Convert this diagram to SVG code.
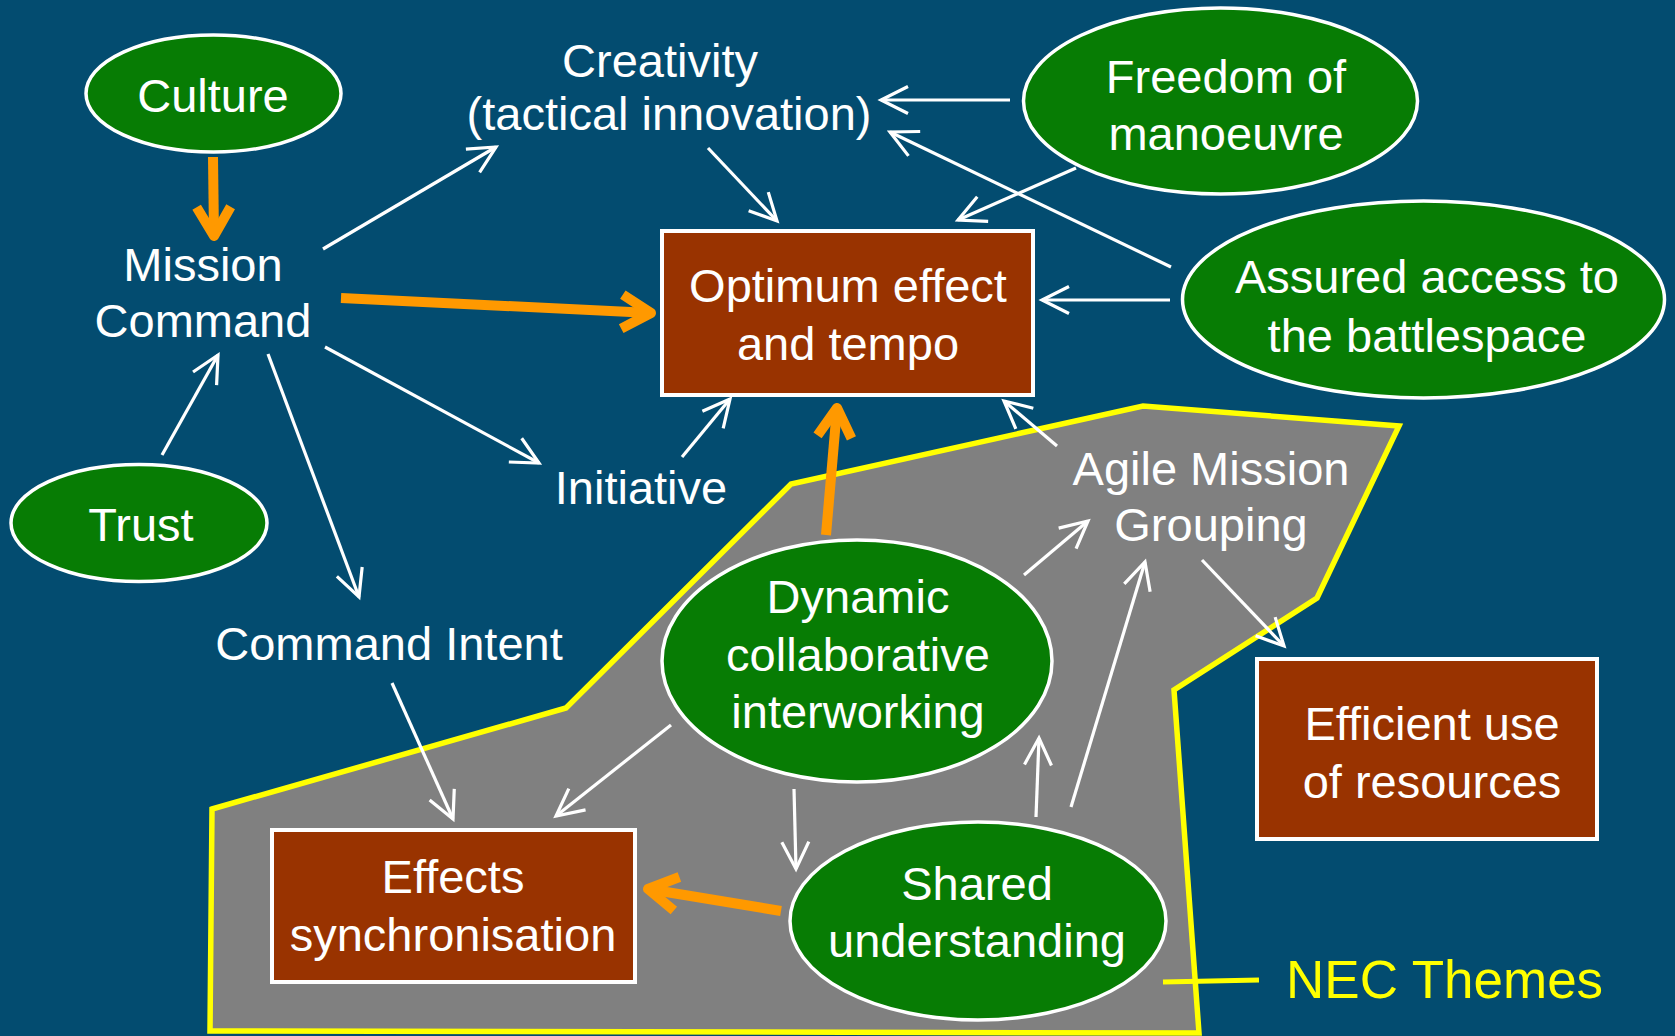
<svg xmlns="http://www.w3.org/2000/svg" width="1675" height="1036" viewBox="0 0 1675 1036">
<style>
.bg{fill:#034C70}
.ell{fill:#077C04;stroke:#fff;stroke-width:3.5}
.box{fill:#993300;stroke:#fff;stroke-width:4}
.t{font-family:"Liberation Sans",Arial,Helvetica,sans-serif;font-size:47px;fill:#fff;text-anchor:middle}
.w{stroke:#fff;stroke-width:3.2;fill:none;marker-end:url(#wa)}
.o{stroke:#FF9900;stroke-width:10;fill:none;marker-end:url(#oa)}
</style>
<defs>
<marker id="wa" markerUnits="userSpaceOnUse" orient="auto" overflow="visible" markerWidth="1" markerHeight="1" refX="0" refY="0">
<path d="M-27,-13.5 L0,0 L-27,13.5" fill="none" stroke="#fff" stroke-width="3.2"/>
</marker>
<marker id="oa" markerUnits="userSpaceOnUse" orient="auto" overflow="visible" markerWidth="1" markerHeight="1" refX="0" refY="0">
<path d="M-29,-17 L0,0 L-29,17" fill="none" stroke="#FF9900" stroke-width="10" stroke-linejoin="round"/>
</marker>
</defs>
<rect class="bg" x="0" y="0" width="1675" height="1036"/>

<g id="nec-themes">
<polygon points="212,809 566,708 791,484 1143,406 1399,426 1317,598 1174,690 1199,1033 210,1031" fill="#808080" stroke="#FFFF00" stroke-width="5.5" stroke-linejoin="miter"/>
<line x1="1163" y1="982" x2="1259" y2="980" stroke="#FFFF00" stroke-width="5"/>
<text x="1286" y="998" style="font-family:'Liberation Sans',Arial,sans-serif;font-size:53px;fill:#FFFF00">NEC Themes</text>
</g>

<g id="connectors">
<line class="o" x1="213" y1="157" x2="214" y2="236"/>
<line class="o" x1="341" y1="298" x2="651" y2="313"/>
<line class="o" x1="826" y1="535" x2="837" y2="408"/>
<line class="o" x1="781" y1="911" x2="648" y2="889"/>
<line class="w" x1="323" y1="249" x2="496" y2="147"/>
<line class="w" x1="325" y1="347" x2="539" y2="463"/>
<line class="w" x1="162" y1="455" x2="218" y2="355"/>
<line class="w" x1="268" y1="354" x2="359" y2="597"/>
<line class="w" x1="708" y1="148" x2="777" y2="221"/>
<line class="w" x1="1010" y1="100" x2="881" y2="100"/>
<line class="w" x1="1171" y1="267" x2="890" y2="132"/>
<line class="w" x1="1076" y1="168" x2="958" y2="220"/>
<line class="w" x1="1170" y1="300" x2="1042" y2="300"/>
<line class="w" x1="682" y1="457" x2="730" y2="399"/>
<line class="w" x1="1057" y1="446" x2="1004" y2="401"/>
<line class="w" x1="1024" y1="575" x2="1088" y2="521"/>
<line class="w" x1="1071" y1="807" x2="1145" y2="562"/>
<line class="w" x1="1036" y1="817" x2="1039" y2="738"/>
<line class="w" x1="794" y1="789" x2="796" y2="869"/>
<line class="w" x1="671" y1="725" x2="556" y2="816"/>
<line class="w" x1="392" y1="683" x2="453" y2="819"/>
<line class="w" x1="1202" y1="560" x2="1284" y2="646"/>
</g>

<g id="culture">
<ellipse class="ell" cx="213.5" cy="93.5" rx="127.5" ry="58.5"/>
<text class="t" x="213" y="112">Culture</text>
</g>
<g id="mission-command">
<text class="t" x="203" y="281">Mission</text>
<text class="t" x="203" y="337">Command</text>
</g>
<g id="creativity">
<text class="t" x="660" y="77">Creativity</text>
<text class="t" x="669" y="130">(tactical innovation)</text>
</g>
<g id="freedom">
<ellipse class="ell" cx="1220.5" cy="101" rx="197" ry="93"/>
<text class="t" x="1226" y="93">Freedom of</text>
<text class="t" x="1226" y="150">manoeuvre</text>
</g>
<g id="optimum">
<rect class="box" x="662" y="231" width="371" height="164"/>
<text class="t" x="848" y="302">Optimum effect</text>
<text class="t" x="848" y="360">and tempo</text>
</g>
<g id="assured">
<ellipse class="ell" cx="1423.5" cy="299.5" rx="241" ry="98.5"/>
<text class="t" x="1427" y="293">Assured access to</text>
<text class="t" x="1427" y="352">the battlespace</text>
</g>
<g id="trust">
<ellipse class="ell" cx="139" cy="523" rx="128" ry="58.5"/>
<text class="t" x="141" y="541">Trust</text>
</g>
<g id="initiative">
<text class="t" x="641" y="504">Initiative</text>
</g>
<g id="command-intent">
<text class="t" x="389" y="660">Command Intent</text>
</g>
<g id="agile">
<text class="t" x="1211" y="485">Agile Mission</text>
<text class="t" x="1211" y="541">Grouping</text>
</g>
<g id="dynamic">
<ellipse class="ell" cx="857" cy="661" rx="195" ry="121"/>
<text class="t" x="858" y="613">Dynamic</text>
<text class="t" x="858" y="671">collaborative</text>
<text class="t" x="858" y="728">interworking</text>
</g>
<g id="efficient">
<rect class="box" x="1257" y="659" width="340" height="180"/>
<text class="t" x="1432" y="740">Efficient use</text>
<text class="t" x="1432" y="798">of resources</text>
</g>
<g id="effects">
<rect class="box" x="272" y="830" width="363" height="152"/>
<text class="t" x="453" y="893">Effects</text>
<text class="t" x="453" y="951">synchronisation</text>
</g>
<g id="shared">
<ellipse class="ell" cx="978" cy="921" rx="188" ry="99"/>
<text class="t" x="977" y="900">Shared</text>
<text class="t" x="977" y="957">understanding</text>
</g>
</svg>
